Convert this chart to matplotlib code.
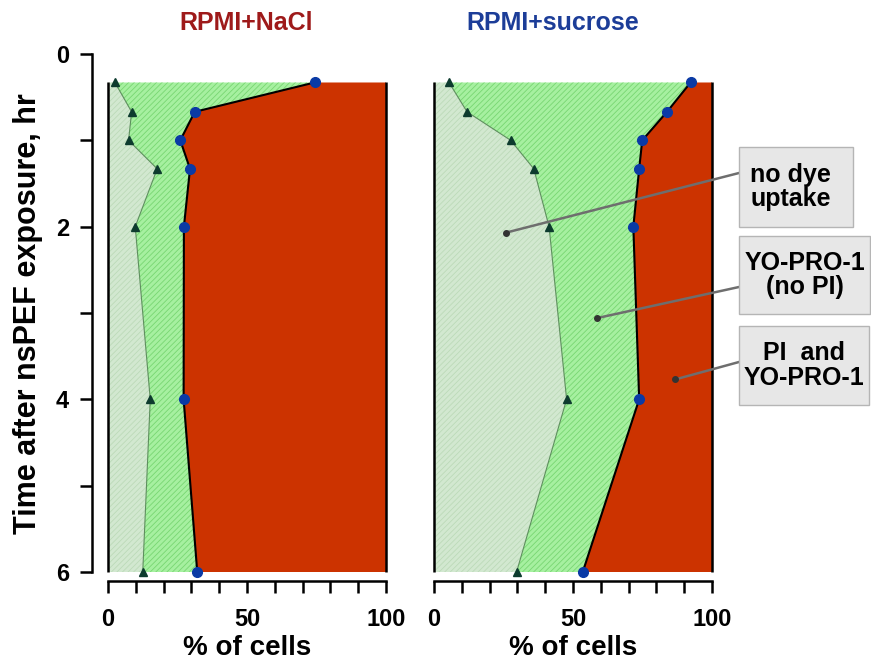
import matplotlib
matplotlib.use("Agg")
import matplotlib.pyplot as plt
from matplotlib.patches import Rectangle
from matplotlib.ticker import MultipleLocator

plt.rcParams['font.family'] = ['Liberation Sans', 'DejaVu Sans']
plt.rcParams['font.weight'] = 'bold'
plt.rcParams['hatch.linewidth'] = 0.6

# time after exposure, hr
hours = [0.33, 0.67, 1.0, 1.33, 2.0, 4.0, 6.0]

# cumulative % of cells: upper edge of "no dye" and of "no dye + YO-PRO-1 only"
nacl_no_dye = [2.5, 8.5, 7.4, 17.7, 9.8, 15.2, 12.5]
nacl_yopro = [74.3, 31.2, 26.0, 29.5, 27.3, 27.2, 32.1]
sucrose_no_dye = [5.4, 11.9, 27.6, 35.9, 41.4, 47.7, 29.7]
sucrose_yopro = [92.3, 83.8, 74.9, 73.8, 71.7, 73.8, 53.5]

titles = ['RPMI+NaCl', 'RPMI+sucrose']
title_colors = ['#9e1a1a', '#1c3d98']

box_labels = ['no dye\nuptake', 'YO-PRO-1\n(no PI)', 'PI  and\nYO-PRO-1']
# where each callout points (right panel data coords)
pointer_x = [25.8, 58.5, 86.7]
pointer_y = [2.07, 3.06, 3.77]

W, H = 871, 663
fig = plt.figure(figsize=(W / 100, H / 100), dpi=100)

def px_box(x0, y0, x1, y1):
    # pixel box (top-left origin) -> figure fraction rect
    return [x0 / W, 1 - y1 / H, (x1 - x0) / W, (y1 - y0) / H]

ax1 = fig.add_axes(px_box(108, 54, 386, 572))
ax2 = fig.add_axes(px_box(434, 54, 712, 572))

panels = [(ax1, nacl_no_dye, nacl_yopro), (ax2, sucrose_no_dye, sucrose_yopro)]

for ax, no_dye, yopro in panels:
    ax.fill_betweenx(hours, 0, no_dye, facecolor='#d2e8d0', edgecolor='#bcdab8',
                     hatch='//////', linewidth=0)
    ax.fill_betweenx(hours, no_dye, yopro, facecolor='#a6f0a0', edgecolor='#78d672',
                     hatch='//////', linewidth=0)
    ax.fill_betweenx(hours, yopro, 100, facecolor='#cc3300', linewidth=0)

    ax.vlines([0, 100], hours[0], hours[-1], color='black', lw=1.8, clip_on=False)

    ax.plot(no_dye, hours, color='#5e8f5e', lw=0.8, marker='^', markersize=6,
            markerfacecolor='#0d3b2e', markeredgecolor='#0d3b2e', clip_on=False, zorder=4)
    ax.plot(yopro, hours, color='black', lw=1.5, marker='o', markersize=7,
            markerfacecolor='#0a3aa5', markeredgecolor='#0a3aa5', clip_on=False, zorder=5)

    ax.set_xlim(0, 100)
    ax.set_ylim(6, 0)
    ax.xaxis.set_major_locator(MultipleLocator(50))
    ax.xaxis.set_minor_locator(MultipleLocator(10))
    ax.tick_params(axis='x', which='both', direction='out', length=8.6, width=1.8,
                   labelsize=17, pad=11)
    ax.set_xlabel('% of cells', fontsize=20, fontweight='bold', labelpad=3)
    for side in ['top', 'right']:
        ax.spines[side].set_visible(False)
    ax.spines['bottom'].set_position(('outward', 6.5))
    ax.spines['bottom'].set_linewidth(1.8)
    ax.spines['bottom'].set_bounds(0, 100)
    ax.set_facecolor('none')

ax1.yaxis.set_major_locator(MultipleLocator(2))
ax1.yaxis.set_minor_locator(MultipleLocator(1))
ax1.tick_params(axis='y', which='both', direction='out', length=8.6, width=1.8,
                labelsize=17, pad=8)
ax1.spines['left'].set_position(('outward', 11.5))
ax1.spines['left'].set_linewidth(1.8)
ax1.spines['left'].set_bounds(0, 6)

ax2.spines['left'].set_visible(False)
ax2.tick_params(axis='y', which='both', left=False, labelleft=False)

fig.text(28 / W, 1 - 314 / H, 'Time after nsPEF exposure, hr', rotation=90,
         ha='center', va='center', fontsize=22, fontweight='bold')

fig.text(246 / W, 1 - 23 / H, titles[0], color=title_colors[0], fontsize=18,
         fontweight='bold', ha='center', va='center')
fig.text(553 / W, 1 - 23 / H, titles[1], color=title_colors[1], fontsize=18,
         fontweight='bold', ha='center', va='center')

# callout boxes (pixel positions)
boxes = [(739, 147, 853, 227), (739, 236, 870, 314), (739, 326, 869, 405)]
anchor_y = [173, 287, 362]
for (x0, y0, x1, y1), label, ay, px, py in zip(boxes, box_labels, anchor_y, pointer_x, pointer_y):
    fig.patches.append(Rectangle((x0 / W, 1 - y1 / H), (x1 - x0) / W, (y1 - y0) / H,
                                 transform=fig.transFigure, facecolor='#e7e7e7',
                                 edgecolor='#b5b5b5', linewidth=1.0))
    if label.startswith('no'):
        fig.text((x0 + 11) / W, 1 - (y0 + y1) / 2 / H, label, ha='left', va='center',
                 fontsize=18, fontweight='bold', linespacing=1.05)
    else:
        fig.text((x0 + x1) / 2 / W, 1 - (y0 + y1) / 2 / H, label, ha='center', va='center',
                 fontsize=18, fontweight='bold', linespacing=1.05)
    # line from point in panel to box edge
    bx, by = ax2.transData.inverted().transform(
        fig.transFigure.transform((x0 / W, 1 - ay / H)))
    ax2.plot([px, bx], [py, by], color='#6e6e6e', lw=1.8, clip_on=False, zorder=6)
    ax2.plot([px], [py], 'o', color='#333333', markersize=4, clip_on=False, zorder=7)

fig.savefig('out.png', dpi=100)
